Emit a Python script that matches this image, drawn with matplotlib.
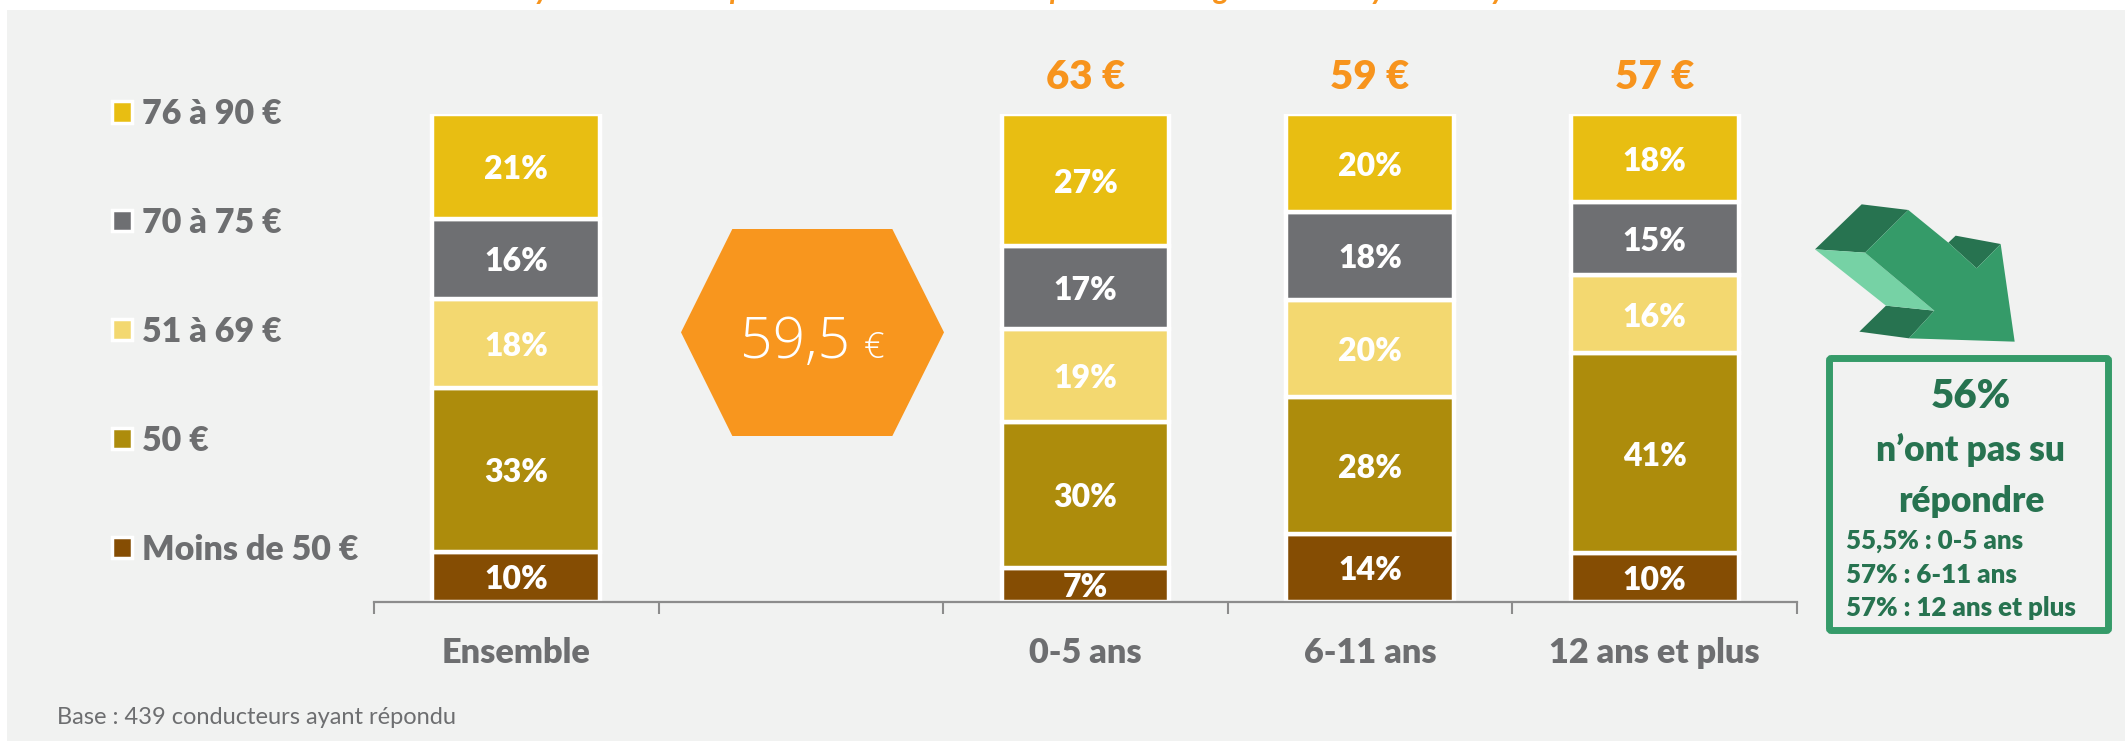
import numpy as np
import matplotlib
matplotlib.use("Agg")
import matplotlib.pyplot as plt
from matplotlib.patches import Patch, Polygon, Rectangle, FancyBboxPatch

plt.rcParams["font.family"] = ["Lato", "DejaVu Sans"]

categories = ["Ensemble", "", "0-5 ans", "6-11 ans", "12 ans et plus"]
moins_50 = [10, np.nan, 7, 14, 10]
egal_50 = [33, np.nan, 30, 28, 41]
de_51_69 = [18, np.nan, 19, 20, 16]
de_70_75 = [16, np.nan, 17, 18, 15]
de_76_90 = [21, np.nan, 27, 20, 18]
series_names = ["Moins de 50 €", "50 €", "51 à 69 €", "70 à 75 €", "76 à 90 €"]
moyennes = ["", "", "63 €", "59 €", "57 €"]

GREY = "#6D6E70"
ORANGE = "#F7941D"
GREEN = "#359B69"
DARK_GREEN = "#277350"
HEAVY = 800
colors = ["#854D03", "#AD8C0C", "#F3D870", "#6E6F72", "#E8BE12"]

W, H = 2125, 744
fig = plt.figure(figsize=(W / 100, H / 100), dpi=100, facecolor="white")

# overlay in pixel coords for the slide decoration
bg = fig.add_axes([0, 0, 1, 1], zorder=0)
bg.set_xlim(0, W)
bg.set_ylim(H, 0)
bg.axis("off")
bg.add_patch(Rectangle((7, 10), W, 731, fc="#F1F2F1", ec="none"))

# axes: 374..1797 px wide, bars from y=602 up to y=114.5
ax = fig.add_axes([374 / W, 1 - 602 / H, (1797 - 374) / W, (602 - 114.5) / H], zorder=1)
ax.patch.set_alpha(0)

table = np.array([moins_50, egal_50, de_51_69, de_70_75, de_76_90], dtype=float)
shares = table / np.nansum(table, axis=0)
x = np.arange(len(categories))
bottom = np.zeros(len(categories))
for i, name in enumerate(series_names):
    bars = ax.bar(x, shares[i], 0.59, bottom=bottom, color=colors[i], edgecolor="white", linewidth=3.2, label=name)
    labels = ["" if np.isnan(v) else f"{v:.0f}%" for v in table[i]]
    ax.bar_label(bars, labels=labels, label_type="center", padding=-2, color="white", fontsize=23, fontweight=HEAVY)
    bottom = bottom + np.nan_to_num(shares[i])

for xi, m in zip(x, moyennes):
    ax.text(xi, 1.075, m, ha="center", va="center", color=ORANGE, fontsize=29, fontweight=HEAVY)

ax.set_xlim(-0.5, len(categories) - 0.5)
ax.set_ylim(0, 1)
for s in ["top", "left", "right"]:
    ax.spines[s].set_visible(False)
ax.spines["bottom"].set_color("#8C8C8C")
ax.spines["bottom"].set_linewidth(1.6)
ax.set_yticks([])
ax.set_xticks(x)
ax.set_xticklabels(categories, color=GREY, fontsize=24.7, fontweight=HEAVY)
ax.set_xticks(np.arange(len(categories) + 1) - 0.5, minor=True)
ax.tick_params(axis="x", which="major", length=0, pad=25)
ax.tick_params(axis="x", which="minor", length=8.5, width=1.5, color="#8C8C8C")

handles = [Patch(fc=c, ec="white", lw=2.5) for c in colors[::-1]]
leg = ax.legend(handles, series_names[::-1], loc="upper left", bbox_to_anchor=(112 / W, 1 - 98 / H),
                bbox_transform=fig.transFigure, frameon=False, fontsize=24.5, handlelength=0.575,
                handleheight=0.575, handletextpad=0.3, labelspacing=2.26, borderpad=0, borderaxespad=0)
for t in leg.get_texts():
    t.set_color(GREY)
    t.set_fontweight(HEAVY)

# hexagon with the overall mean
hexagon = np.array([(123, 397), (277, 87), (757, 87), (912, 397), (757, 708), (277, 708)]) / 3 + (640, 200)
bg.add_patch(Polygon(hexagon, fc="#F8961E", ec="none"))
bg.text(795, 358, "59,5", color="white", fontsize=41, family="Open Sans", fontweight="light", ha="center", va="baseline")
bg.text(874, 358, "€", color="white", fontsize=26, family="Open Sans", fontweight="light", ha="center", va="baseline")

# 3D arrow, points
def arrow_pts(pts):
    return np.array(pts) / 3 + (1780, 180)

bg.add_patch(Polygon(arrow_pts([(105, 208), (245, 73), (385, 90), (255, 218)]), fc=DARK_GREEN, ec="none"))
bg.add_patch(Polygon(arrow_pts([(505, 188), (527, 167), (662, 192), (590, 265)]), fc=DARK_GREEN, ec="none"))
bg.add_patch(Polygon(arrow_pts([(318, 377), (463, 392), (387, 475), (238, 455)]), fc=DARK_GREEN, ec="none"))
bg.add_patch(Polygon(arrow_pts([(105, 208), (255, 218), (463, 392), (318, 377)]), fc="#76D2A5", ec="none"))
bg.add_patch(Polygon(arrow_pts([(385, 90), (505, 188), (590, 265), (662, 192), (704, 485), (387, 475), (463, 392), (255, 218)]),
                     fc=GREEN, ec="none"))

# green box
bg.add_patch(FancyBboxPatch((1829.5, 358.5), 279, 272, boxstyle="round,pad=0,rounding_size=2", fc="none", ec=GREEN, lw=5))
bg.text(1971, 396, "56%", color=DARK_GREEN, fontsize=29, fontweight=HEAVY, ha="center", va="center")
bg.text(1971, 450, "n’ont pas su", color=DARK_GREEN, fontsize=25.5, fontweight=HEAVY, ha="center", va="center")
bg.text(1971, 501, "répondre", color=DARK_GREEN, fontsize=25.5, fontweight=HEAVY, ha="center", va="center")
for y, s in zip([541, 575, 608], ["55,5% : 0-5 ans", "57% : 6-11 ans", "57% : 12 ans et plus"]):
    bg.text(1846, y, s, color=DARK_GREEN, fontsize=18.6, fontweight=HEAVY, ha="left", va="center")

bg.text(57, 717, "Base : 439 conducteurs ayant répondu", color=GREY, fontsize=17, ha="left", va="center")

# slide title is cut off by the crop, only its descenders are left
for gx, g in zip([542, 737, 1057, 1222, 1378, 1498], "yppgyy"):
    bg.text(gx, -1, g, color=ORANGE, fontsize=22, fontweight="bold", style="italic", ha="center", va="baseline")

fig.savefig("out.png", dpi=100)
